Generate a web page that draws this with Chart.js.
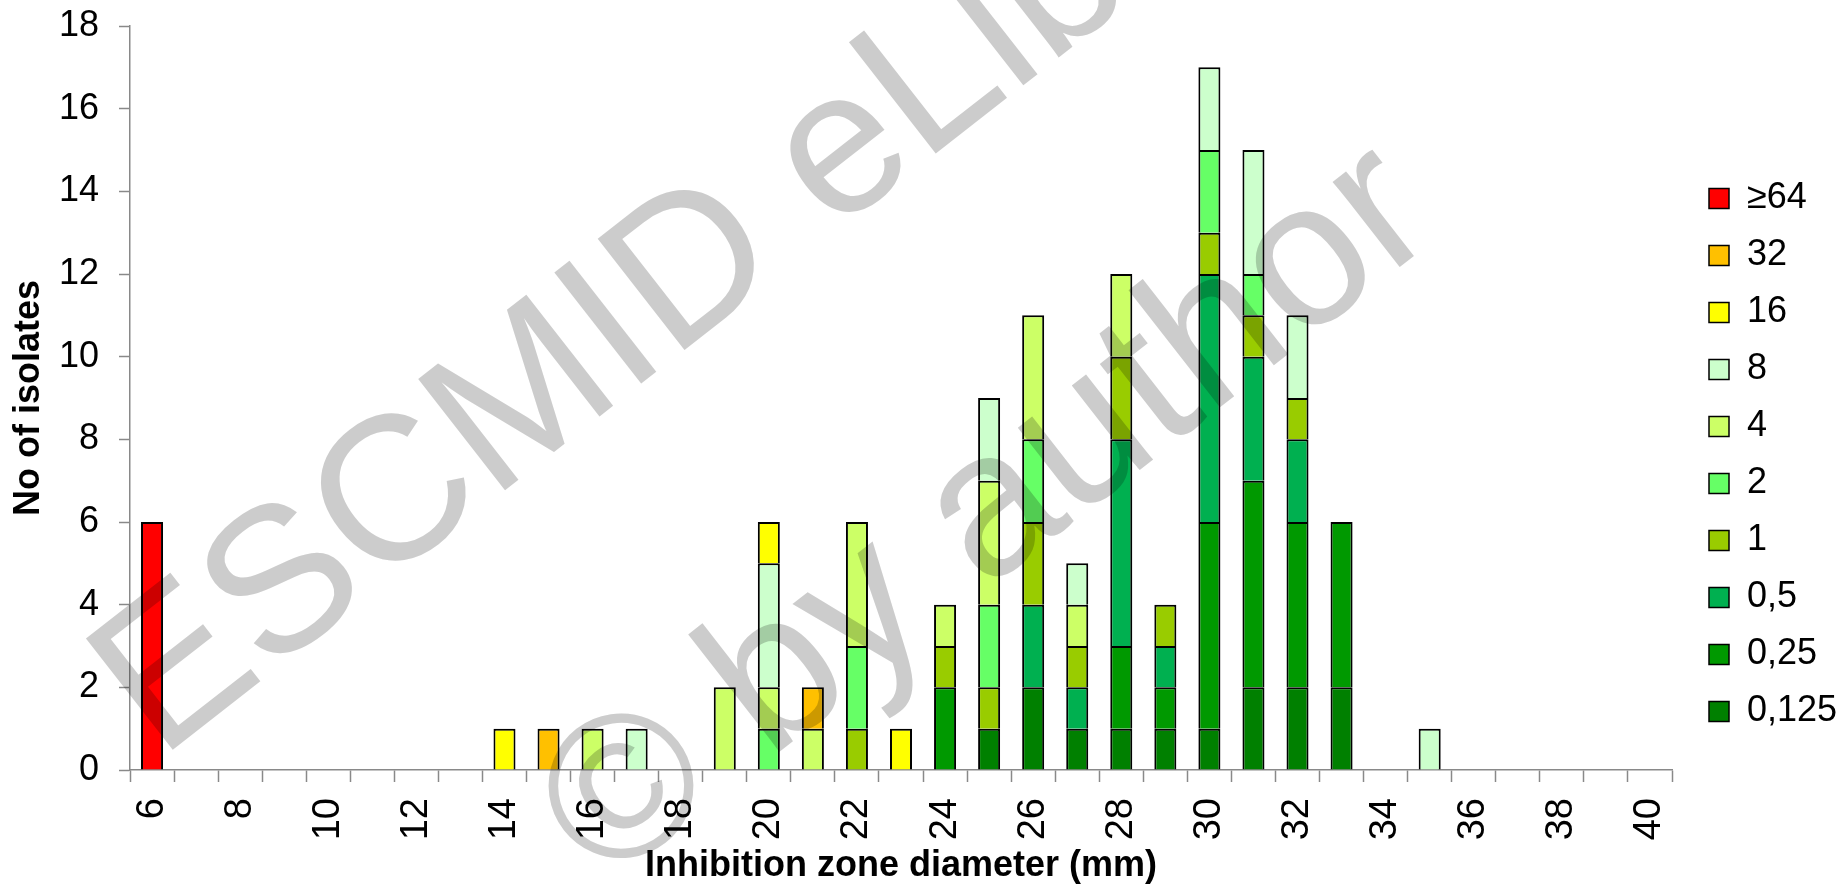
<!DOCTYPE html>
<html>
<head>
<meta charset="utf-8">
<script src="https://cdn.jsdelivr.net/npm/chart.js@4.4.1/dist/chart.umd.min.js"></script>
<style>
  html, body { margin: 0; padding: 0; background: #fff; }
  #wrap { width: 1839px; height: 884px; }
</style>
</head>
<body>
<div id="wrap"><canvas id="chart" width="1839" height="884"></canvas></div>
<script>
// inhibition zone diameter (mm), one category per mm
const diameters = [6, 7, 8, 9, 10, 11, 12, 13, 14, 15, 16, 17, 18, 19, 20, 21, 22, 23, 24, 25, 26, 27, 28, 29, 30, 31, 32, 33, 34, 35, 36, 37, 38, 39, 40];

// number of isolates per MIC (mg/L), same order as diameters
const mic0125 = [0,0,0,0,0, 0,0,0,0,0, 0,0,0,0,0, 0,0,0,0,1, 2,1,1,1,1, 2,2,2,0,0, 0,0,0,0,0];
const mic025  = [0,0,0,0,0, 0,0,0,0,0, 0,0,0,0,0, 0,0,0,2,0, 0,0,2,1,5, 5,4,4,0,0, 0,0,0,0,0];
const mic05   = [0,0,0,0,0, 0,0,0,0,0, 0,0,0,0,0, 0,0,0,0,0, 2,1,5,1,6, 3,2,0,0,0, 0,0,0,0,0];
const mic1    = [0,0,0,0,0, 0,0,0,0,0, 0,0,0,0,0, 0,1,0,1,1, 2,1,2,1,1, 1,1,0,0,0, 0,0,0,0,0];
const mic2    = [0,0,0,0,0, 0,0,0,0,0, 0,0,0,0,1, 0,2,0,0,2, 2,0,0,0,2, 1,0,0,0,0, 0,0,0,0,0];
const mic4    = [0,0,0,0,0, 0,0,0,0,0, 1,0,0,2,1, 1,3,0,1,3, 3,1,2,0,0, 0,0,0,0,0, 0,0,0,0,0];
const mic8    = [0,0,0,0,0, 0,0,0,0,0, 0,1,0,0,3, 0,0,0,0,2, 0,1,0,0,2, 3,2,0,0,1, 0,0,0,0,0];
const mic16   = [0,0,0,0,0, 0,0,0,1,0, 0,0,0,0,1, 0,0,1,0,0, 0,0,0,0,0, 0,0,0,0,0, 0,0,0,0,0];
const mic32   = [0,0,0,0,0, 0,0,0,0,1, 0,0,0,0,0, 1,0,0,0,0, 0,0,0,0,0, 0,0,0,0,0, 0,0,0,0,0];
const mic64   = [6,0,0,0,0, 0,0,0,0,0, 0,0,0,0,0, 0,0,0,0,0, 0,0,0,0,0, 0,0,0,0,0, 0,0,0,0,0];

const micLabels = ['0,125', '0,25', '0,5', '1', '2', '4', '8', '16', '32', '≥64'];
const micSeries = [mic0125, mic025, mic05, mic1, mic2, mic4, mic8, mic16, mic32, mic64];
const micColors = ['#008000', '#009900', '#00B050', '#99CC00', '#66FF66', '#CCFF66', '#CCFFCC', '#FFFF00', '#FFC000', '#FF0000'];

const yTicks = [0, 2, 4, 6, 8, 10, 12, 14, 16, 18];

Chart.defaults.font.family = 'Arial, "Liberation Sans", sans-serif';
Chart.defaults.color = '#000';

const axisGrey = '#898989';

const whiteBg = {
  id: 'whiteBg',
  beforeDraw(chart) {
    const c = chart.ctx;
    c.save();
    c.fillStyle = '#fff';
    c.fillRect(0, 0, chart.width, chart.height);
    c.restore();
  }
};

// push the legend a little away from the plot, like the original
const legendShift = {
  id: 'legendShift',
  afterLayout(chart) {
    const lg = chart.legend;
    if (lg) {
      lg.left += 16;
      lg.right += 16;
    }
  }
};

// the grey "ESCMID eLibrary / © by author" stamp over the figure
const watermark = {
  id: 'watermark',
  afterDraw(chart) {
    const c = chart.ctx;
    c.save();
    c.globalCompositeOperation = 'multiply';
    c.fillStyle = '#cccccc';
    c.font = '205px Arial, "Liberation Sans", sans-serif';
    c.textAlign = 'center';
    c.textBaseline = 'alphabetic';
    c.translate(788, 269);
    c.rotate(-38 * Math.PI / 180);
    c.fillText('ESCMID eLibrary', 0, 0);
    c.fillText('© by author', 6, 375);
    c.restore();
  }
};

const ctx = document.getElementById('chart').getContext('2d');
new Chart(ctx, {
  type: 'bar',
  data: {
    labels: diameters,
    datasets: micSeries.map((vals, i) => ({
      label: micLabels[i],
      data: vals.map(v => (v === 0 ? null : v)),
      backgroundColor: micColors[i],
      borderColor: '#000',
      borderWidth: { top: 2, left: 2, right: 2, bottom: 0 },
      borderSkipped: false,
      barPercentage: 0.5,
      categoryPercentage: 1.0
    }))
  },
  options: {
    responsive: false,
    animation: false,
    layout: { padding: { top: 26, right: 0, bottom: 0, left: 0 } },
    plugins: {
      tooltip: { enabled: false },
      legend: {
        position: 'right',
        reverse: true,
        labels: {
          boxWidth: 20,
          boxHeight: 20,
          padding: 21,
          color: '#000',
          font: { size: 36 }
        }
      }
    },
    scales: {
      x: {
        stacked: true,
        afterFit: axis => {
          axis.height = 114;
          axis.paddingLeft = 0;
          axis.paddingRight = 167;
        },
        grid: {
          offset: true,
          drawOnChartArea: false,
          tickLength: 12,
          tickColor: axisGrey,
          tickWidth: 1.5
        },
        border: { color: axisGrey, width: 1.5 },
        ticks: {
          autoSkip: false,
          maxRotation: 90,
          minRotation: 90,
          padding: 16,
          font: { size: 38 },
          callback: function (value, index) {
            const d = diameters[index];
            return d % 2 === 0 ? String(d) : '';
          }
        },
        title: {
          display: true,
          text: 'Inhibition zone diameter (mm)',
          font: { size: 36, weight: 'bold', lineHeight: 1 },
          padding: { top: 0, bottom: 0 }
        }
      },
      y: {
        stacked: true,
        min: yTicks[0],
        max: yTicks[yTicks.length - 1],
        afterBuildTicks: axis => { axis.ticks = yTicks.map(v => ({ value: v })); },
        afterFit: axis => {
          axis.width = 130;
          axis.paddingTop = 0;
          axis.paddingBottom = 0;
        },
        grid: {
          drawOnChartArea: false,
          tickLength: 11,
          tickColor: axisGrey,
          tickWidth: 1.5
        },
        border: { color: axisGrey, width: 1.5 },
        ticks: {
          padding: 20,
          font: { size: 36 }
        },
        title: {
          display: true,
          text: 'No of isolates',
          font: { size: 36, weight: 'bold', lineHeight: 1.2 },
          padding: { top: 7, bottom: 0 }
        }
      }
    }
  },
  plugins: [whiteBg, legendShift, watermark]
});
</script>
</body>
</html>
